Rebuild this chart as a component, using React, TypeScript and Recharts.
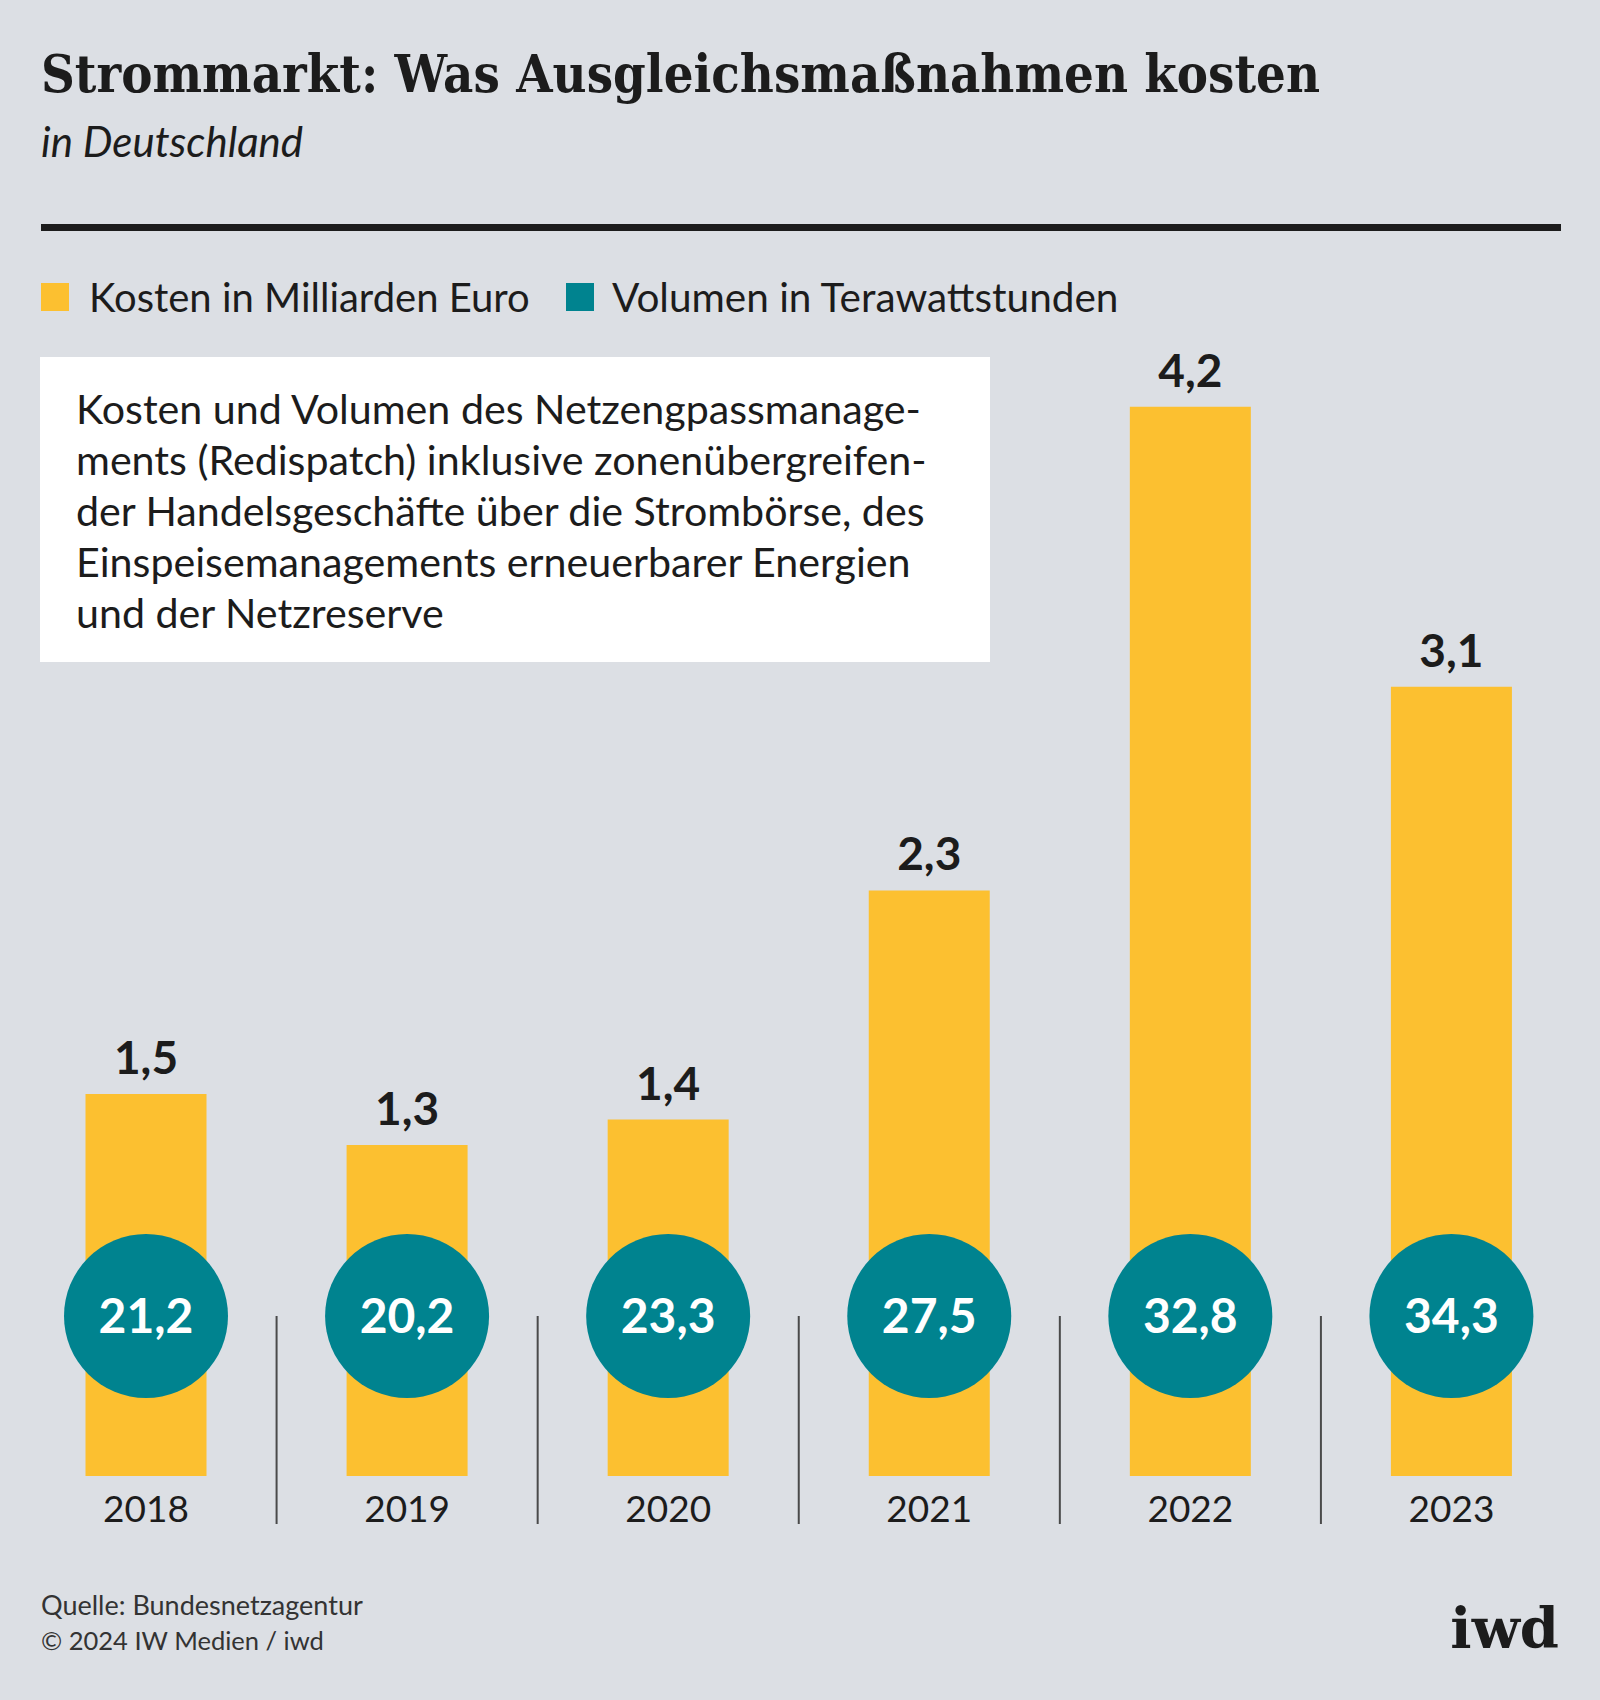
import React from 'react';
import { ComposedChart, Bar, XAxis, YAxis, LabelList, Customized } from 'recharts';

const years = ['2018', '2019', '2020', '2021', '2022', '2023'];
const kosten = [1.5, 1.3, 1.4, 2.3, 4.2, 3.1];
const volumen = [21.2, 20.2, 23.3, 27.5, 32.8, 34.3];

const noteLines = [
    'Kosten und Volumen des Netzengpassmanage-',
    'ments (Redispatch) inklusive zonenübergreifen-',
    'der Handelsgeschäfte über die Strombörse, des',
    'Einspeisemanagements erneuerbarer Energien',
    'und der Netzreserve',
];

const data = years.map((year, i) => ({ year, kosten: kosten[i], volumen: volumen[i] }));

const W = 1600;
const H = 1700;
const MARGIN = { top: 203, right: 18, bottom: 144, left: 15.5 };
const X_AXIS_HEIGHT = 80;
const BAND = (W - MARGIN.left - MARGIN.right) / years.length;

const BG = '#dcdfe4';
const YELLOW = '#fcc030';
const TEAL = '#00838f';
const INK = '#1c1c1c';
const SANS = 'Lato, "Noto Sans", sans-serif';
const SLAB = '"DejaVu Serif", serif';

const fmt = (v: number) => v.toFixed(1).replace('.', ',');

const YearTick = (props: any) => {
    const { x, y, payload, index } = props;
    return (
        <g>
            {index > 0 && (
                <line x1={x - BAND / 2} x2={x - BAND / 2} y1={y - 160} y2={y + 48} stroke="#4a4a4a" strokeWidth={2} />
            )}
            <text x={x} y={y + 46} textAnchor="middle" fontFamily={SANS} fontSize={37} fill={INK}>
                {payload.value}
            </text>
        </g>
    );
};

const ValueLabel = (props: any) => {
    const { x, y, width, value } = props;
    return (
        <text x={x + width / 2} y={y - 20} textAnchor="middle" fontFamily={SANS} fontWeight={700} fontSize={46} fill={INK}>
            {fmt(value)}
        </text>
    );
};

const VolumeBubble = (props: any) => {
    const { x, y, width, height, value } = props;
    const cx = x + width / 2;
    const cy = y + height - 160;
    return (
        <g>
            <circle cx={cx} cy={cy} r={82} fill={TEAL} />
            <text x={cx} y={cy + 17} textAnchor="middle" fontFamily={SANS} fontWeight={700} fontSize={48} fill="#fff">
                {fmt(value)}
            </text>
        </g>
    );
};

const Decor = () => (
    <g>
        <text x={41} y={92} fontFamily={SLAB} fontWeight={700} fontSize={52} fill={INK} textLength={1279} lengthAdjust="spacingAndGlyphs">
            Strommarkt: Was Ausgleichsmaßnahmen kosten
        </text>
        <text x={41} y={157} fontFamily={SANS} fontStyle="italic" fontSize={42} fill={INK}>
            in Deutschland
        </text>
        <rect x={41} y={224} width={1520} height={7} fill={INK} />

        <rect x={41} y={283} width={28} height={28} fill={YELLOW} />
        <text x={89} y={312} fontFamily={SANS} fontSize={40} fill={INK}>Kosten in Milliarden Euro</text>
        <rect x={566} y={283} width={28} height={28} fill={TEAL} />
        <text x={612} y={312} fontFamily={SANS} fontSize={40.5} fill={INK}>Volumen in Terawattstunden</text>

        <rect x={40} y={357} width={950} height={305} fill="#fff" />
        {noteLines.map((line, i) => (
            <text key={i} x={76} y={424 + i * 51} fontFamily={SANS} fontSize={41.2} fill={INK}>
                {line}
            </text>
        ))}

        <text x={41} y={1615} fontFamily={SANS} fontSize={27} fill="#333">Quelle: Bundesnetzagentur</text>
        <text x={41} y={1650} fontFamily={SANS} fontSize={25.5} fill="#333">© 2024 IW Medien / iwd</text>
        <text x={1559} y={1648} textAnchor="end" fontFamily={SLAB} fontWeight={700} fontSize={56} fill={INK}>iwd</text>
    </g>
);

export default function App() {
    return (
        <div style={{ position: 'absolute', left: 0, top: 0, width: W, height: H, background: BG }}>
            <ComposedChart width={W} height={H} data={data} margin={MARGIN}>
                <Customized component={<Decor />} />
                <XAxis
                    dataKey="year"
                    height={X_AXIS_HEIGHT}
                    axisLine={false}
                    tickLine={false}
                    tickSize={0}
                    tickMargin={0}
                    interval={0}
                    tick={<YearTick />}
                />
                <YAxis hide domain={[0, 5]} />
                <Bar dataKey="kosten" fill={YELLOW} barSize={121} isAnimationActive={false}>
                    <LabelList dataKey="kosten" content={<ValueLabel />} />
                    <LabelList dataKey="volumen" content={<VolumeBubble />} />
                </Bar>
            </ComposedChart>
        </div>
    );
}
